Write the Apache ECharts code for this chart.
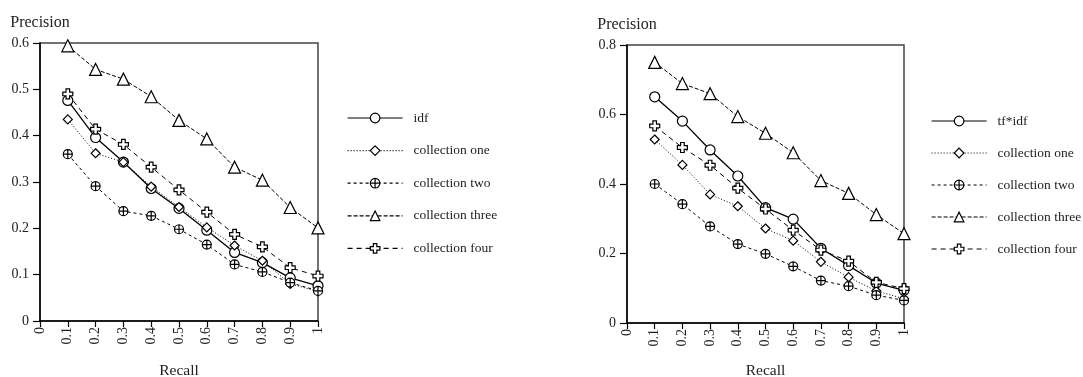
<!DOCTYPE html>
<html>
<head>
<meta charset="utf-8">
<script src="https://cdn.jsdelivr.net/npm/echarts@6/dist/echarts.min.js"></script>
<style>
  html, body { margin: 0; padding: 0; background: #fff; }
  #chart { width: 1083px; height: 377px; }
</style>
</head>
<body>
<div id="chart"></div>
<script>
// recall levels shared by both plots
const recall = [0.1, 0.2, 0.3, 0.4, 0.5, 0.6, 0.7, 0.8, 0.9, 1];

// left plot
const idfLeft = [0.476, 0.396, 0.343, 0.286, 0.243, 0.196, 0.148, 0.126, 0.093, 0.076];
const oneLeft = [0.435, 0.362, 0.343, 0.290, 0.246, 0.202, 0.163, 0.130, 0.080, 0.064];
const twoLeft = [0.360, 0.291, 0.237, 0.227, 0.198, 0.165, 0.122, 0.106, 0.083, 0.065];
const threeLeft = [0.594, 0.543, 0.522, 0.484, 0.433, 0.393, 0.332, 0.304, 0.245, 0.201];
const fourLeft = [0.490, 0.414, 0.381, 0.332, 0.283, 0.235, 0.187, 0.160, 0.115, 0.097];

// right plot
const tfidfRight = [0.651, 0.581, 0.498, 0.423, 0.332, 0.299, 0.215, 0.165, 0.115, 0.094];
const oneRight = [0.528, 0.455, 0.370, 0.336, 0.272, 0.237, 0.176, 0.132, 0.092, 0.070];
const twoRight = [0.400, 0.342, 0.278, 0.227, 0.199, 0.163, 0.122, 0.106, 0.080, 0.065];
const threeRight = [0.750, 0.689, 0.660, 0.594, 0.546, 0.490, 0.410, 0.373, 0.312, 0.257];
const fourRight = [0.567, 0.505, 0.454, 0.388, 0.328, 0.267, 0.210, 0.178, 0.117, 0.099];

const namesLeft = ['idf', 'collection one', 'collection two', 'collection three', 'collection four'];
const namesRight = ['tf*idf', 'collection one', 'collection two', 'collection three', 'collection four'];

const font = 'Liberation Serif';
const crossCircle = 'path://M10,0 A10,10 0 1,1 9.99,0 Z M10,0 L10,20 M0,10 L20,10';
const plus = 'path://M3.2,0 L6.8,0 L6.8,3.2 L10,3.2 L10,6.8 L6.8,6.8 L6.8,10 L3.2,10 L3.2,6.8 L0,6.8 L0,3.2 L3.2,3.2 Z';

// marker + dash per curve (same order as the names)
const styles = [
  { symbol: 'circle', size: 10, dash: 'solid', width: 1.3 },
  { symbol: 'diamond', size: 9, dash: [1, 2], width: 1 },
  { symbol: crossCircle, size: 9, dash: [3, 3], width: 1 },
  { symbol: 'triangle', size: 12, dash: [4, 2], width: 1 },
  { symbol: plus, size: 10, dash: [5, 4], width: 1 }
];

function pairs(ys) {
  return recall.map((x, i) => [x, ys[i]]);
}

function makeSeries(names, lists, idx) {
  return names.map((name, i) => ({
    name: name,
    type: 'line',
    xAxisIndex: idx,
    yAxisIndex: idx,
    data: pairs(lists[i]),
    symbol: styles[i].symbol,
    symbolSize: styles[i].size,
    showAllSymbol: true,
    lineStyle: { color: '#000', width: styles[i].width, type: styles[i].dash },
    itemStyle: { color: '#fff', borderColor: '#000', borderWidth: 1.2 },
    emphasis: { disabled: true }
  }));
}

const labelStyle = { fontFamily: font, fontSize: 14, color: '#222' };

function xAxis(idx, gap) {
  return {
    type: 'value', gridIndex: idx, min: 0, max: 1, interval: 0.1,
    name: 'Recall', nameLocation: 'middle', nameGap: gap,
    nameTextStyle: { fontFamily: font, fontSize: 15.5, color: '#222' },
    axisLine: { lineStyle: { color: '#000', width: 1.5 } },
    axisTick: { length: 6, lineStyle: { color: '#000', width: 1.2 } },
    axisLabel: Object.assign({ rotate: 90, margin: 6 }, labelStyle),
    splitLine: { show: false }
  };
}

function yAxis(idx, max, step) {
  return {
    type: 'value', gridIndex: idx, min: 0, max: max, interval: step,
    name: 'Precision', nameLocation: 'end', nameGap: 12,
    nameTextStyle: { fontFamily: font, fontSize: 16, color: '#222' },
    axisLine: { lineStyle: { color: '#000', width: 1.5 } },
    axisTick: { length: 7, lineStyle: { color: '#000', width: 1.2 } },
    axisLabel: Object.assign({ margin: 11 }, labelStyle),
    splitLine: { show: false }
  };
}

function legend(names, left, top, gap) {
  return {
    data: names, orient: 'vertical', left: left, top: top,
    itemWidth: 55, itemHeight: 12, itemGap: gap,
    itemStyle: { borderWidth: 1.2 },
    lineStyle: { width: 1.2 },
    textStyle: { fontFamily: font, fontSize: 13.5, color: '#222', padding: [0, 0, 0, 6] },
    selectedMode: false
  };
}

const gridBase = { show: true, borderColor: '#444', borderWidth: 1.5, outerBoundsMode: 'none', containLabel: false };

const chart = echarts.init(document.getElementById('chart'));
chart.setOption({
  animation: false,
  backgroundColor: '#fff',
  grid: [
    Object.assign({ left: 40, top: 43, width: 278, height: 278 }, gridBase),
    Object.assign({ left: 627, top: 45, width: 277, height: 278 }, gridBase)
  ],
  xAxis: [xAxis(0, 42), xAxis(1, 40)],
  yAxis: [yAxis(0, 0.6, 0.1), yAxis(1, 0.8, 0.2)],
  legend: [legend(namesLeft, 342, 106, 18.6), legend(namesRight, 926, 109, 18)],
  series: makeSeries(namesLeft, [idfLeft, oneLeft, twoLeft, threeLeft, fourLeft], 0)
    .concat(makeSeries(namesRight, [tfidfRight, oneRight, twoRight, threeRight, fourRight], 1))
});
</script>
</body>
</html>
